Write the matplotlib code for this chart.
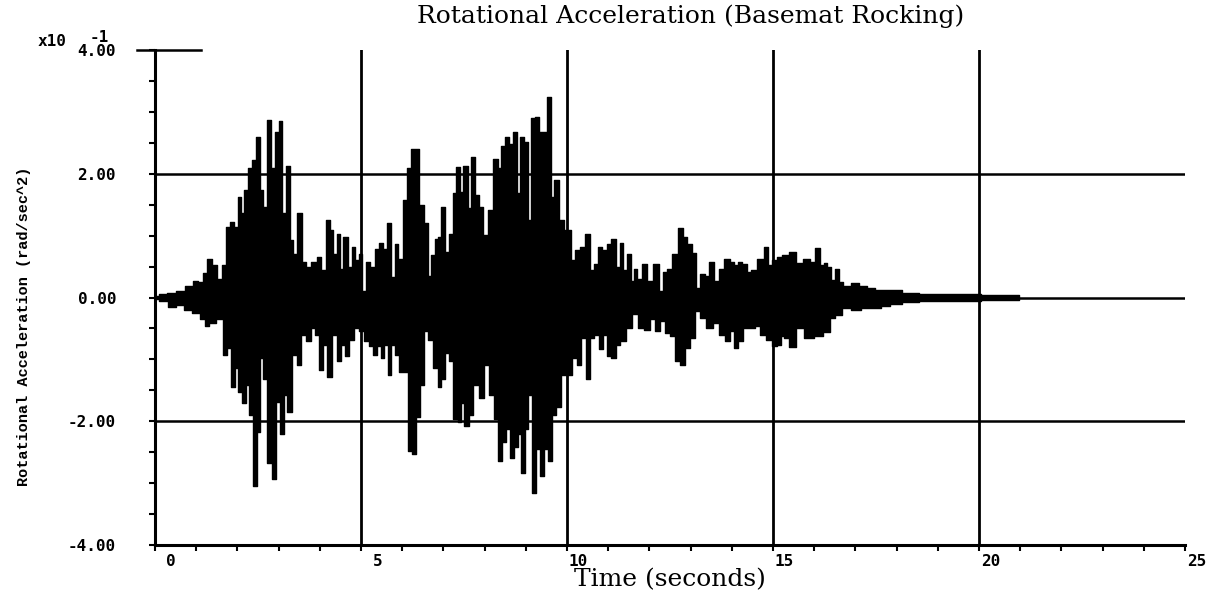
import matplotlib
matplotlib.use("Agg")
import matplotlib.pyplot as plt
import numpy as np
from matplotlib.transforms import ScaledTranslation

# ---- data (values in units of 1e-1 rad/sec^2) ----
peak_t = [0.0, 0.2, 0.4, 0.6, 0.85, 1.0, 1.1, 1.21, 1.32, 1.45, 1.58, 1.67, 1.78, 1.86, 1.98,
          2.04, 2.12, 2.22, 2.30, 2.40, 2.49, 2.59, 2.67, 2.76, 2.87, 2.95, 3.05, 3.13, 3.22,
          3.31, 3.39, 3.51, 3.61, 3.72, 3.84, 4.00, 4.08, 4.20, 4.28, 4.36, 4.46, 4.52, 4.63,
          4.73, 4.81, 4.89, 4.99, 5.05, 5.17, 5.29, 5.37, 5.49, 5.60, 5.68, 5.78, 5.86, 5.96,
          6.06, 6.17, 6.26, 6.36, 6.47, 6.59, 6.67, 6.75, 6.83, 6.91, 6.99, 7.09, 7.19, 7.27,
          7.36, 7.43, 7.54, 7.64, 7.72, 7.81, 7.92, 8.02, 8.16, 8.27, 8.36, 8.44, 8.55, 8.65,
          8.74, 8.83, 8.91, 9.01, 9.09, 9.17, 9.29, 9.37, 9.48, 9.56, 9.64, 9.75, 9.86, 9.98,
          10.06, 10.14, 10.26, 10.38, 10.51, 10.61, 10.71, 10.80, 10.91, 11.01, 11.13, 11.23,
          11.33, 11.39, 11.50, 11.60, 11.65, 11.76, 11.90, 12.00, 12.18, 12.28, 12.39, 12.48,
          12.64, 12.77, 12.87, 12.97, 13.11, 13.17, 13.29, 13.39, 13.52, 13.62, 13.74, 13.90,
          14.02, 14.10, 14.20, 14.30, 14.42, 14.52, 14.71, 14.83, 14.91, 15.03, 15.15, 15.31,
          15.47, 15.64, 15.84, 15.96, 16.10, 16.20, 16.28, 16.36, 16.44, 16.56, 16.64, 16.77,
          17.01, 17.17, 17.37, 17.57, 17.94, 18.3, 18.8, 19.3, 19.8, 20.3, 20.97]
peak_v = [0.03, 0.05, 0.08, 0.10, 0.19, 0.27, 0.25, 0.40, 0.63, 0.52, 0.30, 0.52, 1.14, 1.22, 1.14,
          1.63, 1.36, 1.74, 2.10, 2.23, 2.60, 1.74, 1.47, 2.87, 2.10, 2.68, 2.86, 1.36, 2.13,
          0.93, 0.71, 1.37, 0.57, 0.49, 0.57, 0.65, 0.44, 1.26, 1.09, 0.71, 1.02, 0.46, 0.98,
          0.49, 0.82, 0.60, 0.71, 0.10, 0.57, 0.49, 0.79, 0.88, 0.79, 1.20, 0.33, 0.87, 0.63,
          1.58, 2.10, 2.40, 2.40, 1.50, 1.20, 0.35, 0.68, 0.95, 0.98, 1.47, 0.73, 1.03, 1.69,
          2.11, 1.71, 2.12, 1.44, 2.27, 1.66, 1.47, 1.01, 1.41, 2.24, 2.10, 2.45, 2.59, 2.48,
          2.68, 1.69, 2.60, 2.51, 1.25, 2.90, 2.91, 2.67, 2.67, 3.24, 1.63, 1.90, 1.25, 1.09,
          1.09, 0.60, 0.76, 0.82, 1.03, 0.44, 0.54, 0.82, 0.76, 0.87, 0.94, 0.49,
          0.88, 0.44, 0.71, 0.27, 0.46, 0.30, 0.54, 0.27, 0.54, 0.11, 0.41, 0.46,
          0.71, 1.13, 0.98, 0.87, 0.72, 0.16, 0.38, 0.35, 0.57, 0.27, 0.46, 0.63,
          0.57, 0.52, 0.57, 0.54, 0.41, 0.44, 0.63, 0.82, 0.52, 0.60, 0.65, 0.68,
          0.74, 0.55, 0.63, 0.58, 0.80, 0.52, 0.55, 0.50, 0.28, 0.46, 0.25, 0.18,
          0.23, 0.18, 0.15, 0.12, 0.12, 0.07, 0.06, 0.06, 0.05, 0.04, 0.04]

trough_t = [0.0, 0.2, 0.44, 0.6, 0.8, 1.01, 1.17, 1.25, 1.37, 1.58, 1.70, 1.79, 1.88, 1.98, 2.04,
            2.16, 2.26, 2.32, 2.42, 2.51, 2.59, 2.67, 2.77, 2.89, 2.99, 3.09, 3.17, 3.26, 3.39,
            3.50, 3.61, 3.72, 3.84, 3.94, 4.04, 4.12, 4.24, 4.36, 4.47, 4.56, 4.66, 4.78, 4.89,
            5.01, 5.13, 5.25, 5.33, 5.43, 5.52, 5.61, 5.70, 5.78, 5.88, 5.98, 6.08, 6.18, 6.28,
            6.38, 6.46, 6.59, 6.68, 6.81, 6.91, 6.99, 7.09, 7.19, 7.30, 7.39, 7.47, 7.55, 7.67,
            7.79, 7.92, 8.04, 8.16, 8.28, 8.38, 8.48, 8.56, 8.67, 8.77, 8.85, 8.93, 9.01, 9.09,
            9.21, 9.29, 9.40, 9.49, 9.59, 9.67, 9.80, 9.90, 10.06, 10.18, 10.30, 10.40, 10.51,
            10.61, 10.71, 10.83, 10.91, 11.01, 11.13, 11.23, 11.35, 11.51, 11.66, 11.80, 11.94,
            12.08, 12.20, 12.32, 12.42, 12.56, 12.69, 12.81, 12.93, 13.05, 13.17, 13.29, 13.45,
            13.62, 13.78, 13.90, 14.00, 14.10, 14.22, 14.34, 14.49, 14.63, 14.75, 14.91, 15.03,
            15.15, 15.23, 15.31, 15.47, 15.64, 15.88, 16.12, 16.32, 16.44, 16.56, 16.77, 17.01,
            17.25, 17.49, 17.73, 17.97, 18.3, 18.8, 19.3, 19.8, 20.3, 20.97]
trough_v = [-0.03, -0.05, -0.16, -0.12, -0.20, -0.25, -0.35, -0.46, -0.42, -0.35, -0.93, -0.82,
            -1.44, -1.14, -1.52, -1.71, -1.41, -1.90, -3.05, -2.18, -0.98, -1.31, -2.67, -2.94,
            -1.69, -2.20, -1.58, -1.85, -0.93, -1.09, -0.60, -0.71, -0.49, -0.60, -1.17, -0.76,
            -1.28, -0.60, -1.03, -0.76, -0.95, -0.68, -0.49, -0.54, -0.71, -0.79, -0.93, -0.79,
            -0.98, -0.76, -1.25, -0.76, -0.93, -1.20, -1.20, -2.48, -2.53, -1.93, -1.41, -0.54,
            -0.68, -1.14, -1.44, -1.31, -0.90, -1.03, -1.96, -2.01, -1.71, -2.07, -1.90, -1.41,
            -1.63, -1.09, -1.58, -1.96, -2.64, -2.34, -2.12, -2.59, -2.42, -2.20, -2.83, -2.12,
            -1.58, -3.16, -2.45, -2.89, -2.45, -2.64, -1.90, -1.77, -1.25, -1.25, -0.98, -1.09,
            -0.65, -1.31, -0.65, -0.60, -0.84, -0.60, -0.95, -0.98, -0.76, -0.71, -0.49, -0.27,
            -0.49, -0.52, -0.35, -0.54, -0.38, -0.57, -0.63, -1.03, -1.09, -0.82, -0.65, -0.22,
            -0.33, -0.49, -0.41, -0.60, -0.71, -0.54, -0.82, -0.71, -0.49, -0.49, -0.46, -0.60,
            -0.68, -0.79, -0.76, -0.62, -0.65, -0.80, -0.50, -0.65, -0.62, -0.55, -0.33, -0.28,
            -0.17, -0.20, -0.17, -0.17, -0.14, -0.11, -0.07, -0.06, -0.06, -0.05, -0.04, -0.04]

x_ticks = [0, 5, 10, 15, 20, 25]
x_tick_labels = ["0", "5", "10", "15", "20", "25"]
y_ticks = [-4, -2, 0, 2, 4]
y_tick_labels = ["-4.00", "-2.00", "0.00", "2.00", "4.00"]
h_grid = [-2, 0, 2]
v_grid = [5, 10, 15, 20]

# ---- figure ----
W, H, DPI = 1208, 601, 100
fig = plt.figure(figsize=(W / DPI, H / DPI), dpi=DPI)
ax = fig.add_axes([155 / W, 1 - 545 / H, (1185 - 155) / W, (545 - 50) / H])
ax.set_xlim(0, 25)
ax.set_ylim(-4, 4)

for s in ["top", "right"]:
    ax.spines[s].set_visible(False)
for s in ["left", "bottom"]:
    ax.spines[s].set_linewidth(2.2)

for y in h_grid:
    ax.axhline(y, color="black", lw=1.8, zorder=1)
for x in v_grid:
    ax.axvline(x, color="black", lw=2.0, zorder=1)
# short segment at the top of the y axis
ax.axhline(4, xmin=-0.017, xmax=0.045, color="black", lw=1.8, clip_on=False)

# signal
ax.fill_between(peak_t, 0, peak_v, step="mid", color="black", lw=1.0, zorder=3)
ax.fill_between(trough_t, trough_v, 0, step="mid", color="black", lw=1.0, zorder=3)

mono = "DejaVu Sans Mono"
ax.set_xticks(x_ticks)
ax.set_xticks(np.arange(0, 26, 1), minor=True)
ax.set_xticklabels([])
ax.set_yticks(y_ticks)
ax.set_yticks(np.arange(-4, 4.01, 0.5), minor=True)
ax.set_yticklabels(y_tick_labels, fontfamily=mono, fontweight="bold", fontsize=11.5)
ax.tick_params(axis="y", which="both", direction="out", length=4, width=1.5, pad=24)
ax.tick_params(axis="x", which="both", direction="out", length=4, width=1.5)

offset = ScaledTranslation(0.21, -0.16, fig.dpi_scale_trans)
for xv, lab in zip(x_ticks, x_tick_labels):
    ax.text(xv, -4, lab, transform=ax.transData + offset, ha="right", va="center",
            fontfamily=mono, fontweight="bold", fontsize=11.5, clip_on=False)

fig.text(38 / W, 1 - 41 / H, "x10", fontfamily=mono, fontweight="bold", fontsize=11.5,
         ha="left", va="center")
fig.text(90 / W, 1 - 38 / H, "-1", fontfamily=mono, fontweight="bold", fontsize=11.5,
         ha="left", va="center")

fig.text(24 / W, 1 - 326 / H, "Rotational Acceleration (rad/sec^2)", rotation=90,
         fontfamily="Liberation Mono", fontweight="bold", fontsize=11,
         ha="center", va="center")

fig.text(691 / W, 1 - 16 / H, "Rotational Acceleration (Basemat Rocking)",
         fontfamily="DejaVu Serif", fontsize=18, ha="center", va="center")
fig.text(670 / W, 1 - 580 / H, "Time (seconds)",
         fontfamily="DejaVu Serif", fontsize=18, ha="center", va="center")

fig.savefig("out.png", dpi=DPI)
